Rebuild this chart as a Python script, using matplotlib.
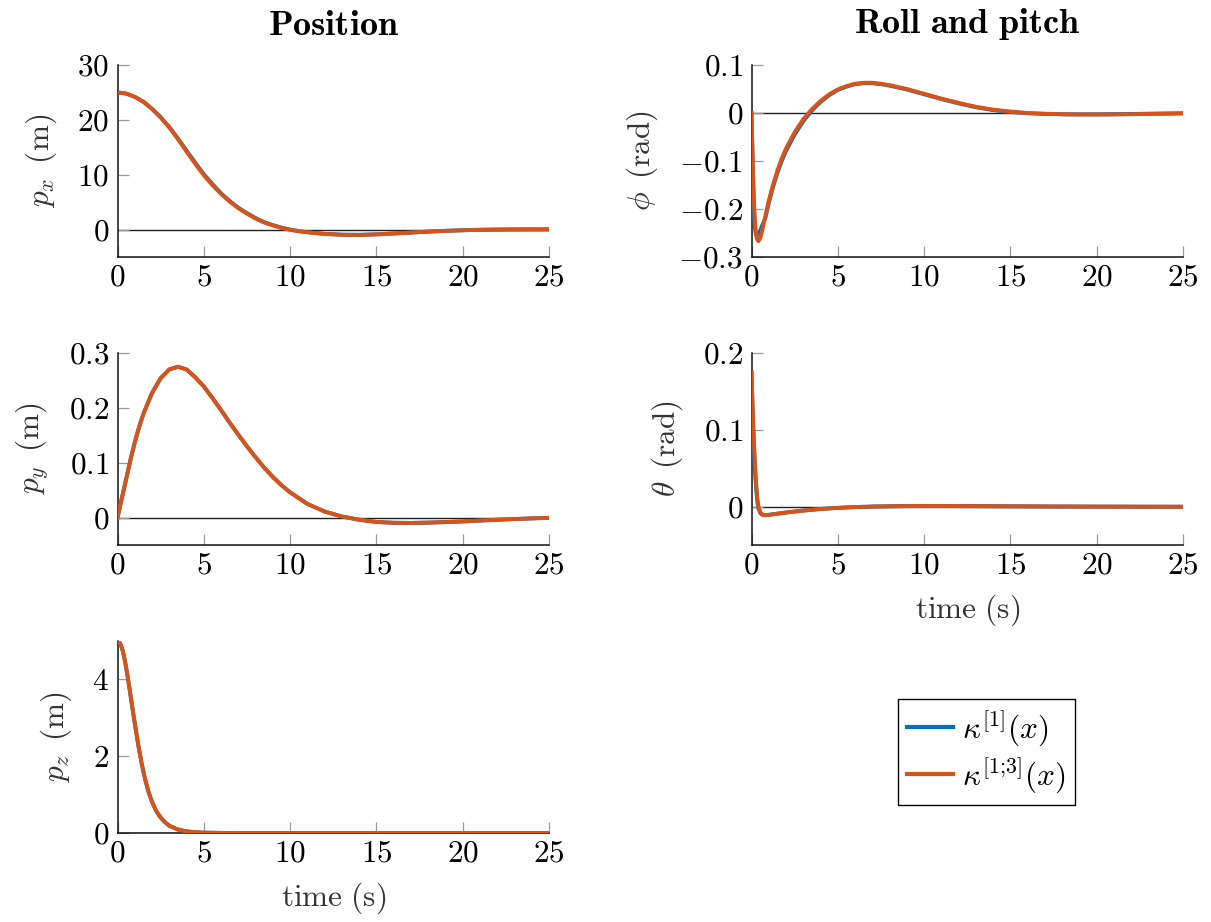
import matplotlib
matplotlib.use("Agg")
import matplotlib.pyplot as plt

plt.rcParams.update({
    "mathtext.fontset": "cm",
    "font.family": "serif",
    "font.serif": ["cmr10"],
    "axes.unicode_minus": False,
})

# ---------------- data ----------------
t_px = [0, 0.5, 1, 1.5, 2, 2.5, 3, 3.5, 4, 4.5, 5, 5.5, 6, 6.5, 7, 7.5, 8, 8.5, 9, 9.5,
        10, 10.5, 11, 12, 13, 14, 15, 16, 17, 18, 19, 20, 21, 22, 23, 24, 25]
px_k1 = [25.0, 24.8, 24.2, 23.3, 22.0, 20.5, 18.7, 16.6, 14.4, 12.2, 10.1, 8.3, 6.6, 5.2, 4.0,
         3.0, 2.1, 1.35, 0.8, 0.35, 0.0, -0.28, -0.48, -0.78, -0.93, -0.96, -0.87, -0.71,
         -0.54, -0.37, -0.23, -0.12, -0.04, 0.0, 0.02, 0.03, 0.03]
px_k13 = [25.0, 24.8, 24.2, 23.3, 22.0, 20.4, 18.6, 16.5, 14.2, 12.0, 9.9, 8.1, 6.5, 5.1, 3.9,
          2.9, 2.0, 1.3, 0.75, 0.3, -0.05, -0.3, -0.5, -0.8, -0.95, -0.97, -0.88, -0.72,
          -0.55, -0.38, -0.24, -0.13, -0.05, 0.0, 0.03, 0.05, 0.05]

t_py = [0, 0.25, 0.5, 0.75, 1, 1.25, 1.5, 2, 2.5, 3, 3.5, 4, 4.5, 5, 5.5, 6, 6.5, 7, 7.5, 8,
        8.5, 9, 9.5, 10, 11, 12, 13, 14, 15, 16, 17, 18, 19, 20, 21, 22, 23, 24, 25]
py_k1 = [0.0, 0.035, 0.07, 0.105, 0.137, 0.165, 0.189, 0.227, 0.254, 0.27, 0.275, 0.270,
         0.256, 0.239, 0.218, 0.196, 0.173, 0.151, 0.130, 0.110, 0.091, 0.074, 0.059, 0.046,
         0.025, 0.011, 0.002, -0.004, -0.008, -0.0095, -0.0098, -0.0092, -0.0082, -0.007,
         -0.0055, -0.004, -0.0027, -0.0015, -0.0005]
py_k13 = [0.0, 0.035, 0.07, 0.105, 0.137, 0.165, 0.189, 0.227, 0.254, 0.27, 0.275, 0.270,
          0.256, 0.239, 0.218, 0.196, 0.173, 0.151, 0.130, 0.110, 0.091, 0.074, 0.059, 0.046,
          0.025, 0.011, 0.002, -0.004, -0.008, -0.0095, -0.0098, -0.0092, -0.0082, -0.007,
          -0.0055, -0.004, -0.0027, -0.0015, -0.0005]

t_pz = [0, 0.1, 0.2, 0.3, 0.4, 0.5, 0.6, 0.7, 0.8, 0.9, 1.0, 1.2, 1.4, 1.6, 1.8, 2.0, 2.25,
        2.5, 2.75, 3.0, 3.5, 4.0, 4.5, 5.0, 6.0, 7.0, 10, 15, 20, 25]
pz_k1 = [5.0, 4.97, 4.89, 4.75, 4.55, 4.31, 4.04, 3.75, 3.45, 3.15, 2.86, 2.3, 1.81, 1.4,
         1.07, 0.81, 0.57, 0.4, 0.28, 0.19, 0.09, 0.043, 0.02, 0.009, 0.002, 0.0, 0.0, 0.0,
         0.0, 0.0]
pz_k13 = [5.0, 4.97, 4.89, 4.75, 4.55, 4.31, 4.04, 3.75, 3.45, 3.15, 2.86, 2.3, 1.81, 1.4,
          1.07, 0.81, 0.57, 0.4, 0.28, 0.19, 0.09, 0.043, 0.02, 0.009, 0.002, 0.0, 0.0, 0.0,
          0.0, 0.0]

t_phi = [0, 0.05, 0.1, 0.15, 0.2, 0.25, 0.3, 0.4, 0.5, 0.6, 0.8, 1.0, 1.25, 1.5, 1.75, 2.0,
         2.5, 3.0, 3.5, 4, 4.5, 5, 5.5, 6, 6.5, 7, 7.5, 8, 9, 10, 11, 12, 13, 14, 15, 16, 17,
         18, 19, 20, 21, 22, 23, 24, 25]
phi_k1 = [0.0, -0.08, -0.15, -0.205, -0.238, -0.252, -0.255, -0.25, -0.245, -0.236, -0.219,
          -0.188, -0.154, -0.125, -0.1, -0.079, -0.045, -0.017, 0.005, 0.023, 0.037, 0.048,
          0.055, 0.06, 0.062, 0.062, 0.06, 0.057, 0.049, 0.039, 0.029, 0.02, 0.012, 0.006,
          0.002, -0.0005, -0.002, -0.0028, -0.003, -0.003, -0.0025, -0.002, -0.0015, -0.001,
          -0.0005]
phi_k13 = [0.0, -0.07, -0.14, -0.19, -0.225, -0.248, -0.261, -0.267, -0.261, -0.248, -0.215,
           -0.183, -0.149, -0.12, -0.095, -0.074, -0.04, -0.013, 0.008, 0.025, 0.039, 0.049,
           0.056, 0.061, 0.063, 0.063, 0.061, 0.058, 0.05, 0.04, 0.03, 0.021, 0.013, 0.007,
           0.003, 0.0, -0.0015, -0.0025, -0.003, -0.003, -0.003, -0.0025, -0.002, -0.0015,
           -0.001]

t_theta = [0, 0.05, 0.1, 0.15, 0.2, 0.25, 0.3, 0.35, 0.4, 0.5, 0.6, 0.8, 1.0, 1.5, 2, 3, 4, 5,
           6, 7, 8, 9, 10, 12, 14, 16, 18, 20, 22, 25]
theta_k1 = [0.175, 0.135, 0.1, 0.072, 0.049, 0.03, 0.016, 0.005, -0.002, -0.008, -0.0105,
            -0.0112, -0.0107, -0.0092, -0.0077, -0.0051, -0.0031, -0.0016, -0.0006, 0.0001,
            0.0005, 0.0007, 0.0008, 0.0007, 0.0005, 0.0003, 0.0001, 0.0, -0.0001, -0.0002]
theta_k13 = [0.175, 0.14, 0.108, 0.08, 0.056, 0.036, 0.02, 0.008, 0.0, -0.007, -0.01,
             -0.0112, -0.0108, -0.0093, -0.0078, -0.0052, -0.0032, -0.0017, -0.0007, 0.0,
             0.0004, 0.0007, 0.0008, 0.0007, 0.0005, 0.0003, 0.0001, 0.0, -0.0001, -0.0002]

x_ticks = [0, 5, 10, 15, 20, 25]
labels = [r"$\kappa^{[1]}(x)$", r"$\kappa^{[1;\!3]}(x)$"]

# ---------------- styling ----------------
BLUE = "#0072BD"
ORANGE = "#D95319"
FS = 22.5
LBL_COLOR = "#333333"

W_PX, H_PX = 1211, 922
fig = plt.figure(figsize=(W_PX / 100, H_PX / 100), dpi=100)


def make_axes(x0, y_top, y_bot):
    return fig.add_axes([x0 / W_PX, 1 - y_bot / H_PX, 431.5 / W_PX, (y_bot - y_top) / H_PX])


def style(ax, ylim, yticks, ylabel, xlabel=None):
    ax.set_xlim(0, 25)
    ax.set_ylim(*ylim)
    for s in ("top", "right"):
        ax.spines[s].set_visible(False)
    for s in ("left", "bottom"):
        ax.spines[s].set_linewidth(1.1)
        ax.spines[s].set_color("#111111")
    ax.axhline(0, color="#222222", lw=1.0, zorder=1.5)
    ax.set_xticks(x_ticks)
    ax.set_xticklabels([f"${v:g}$" for v in x_ticks])
    ax.set_yticks(yticks)
    ax.set_yticklabels([f"${v:g}$" for v in yticks])
    ax.tick_params(direction="in", length=8, width=0.9, color="#9a9a9a",
                   labelsize=FS, labelcolor="black")
    ax.tick_params(axis="x", pad=5)
    ax.tick_params(axis="y", pad=6)
    ax.set_ylabel(ylabel, fontsize=FS, color=LBL_COLOR, labelpad=13)
    if xlabel:
        ax.set_xlabel(xlabel, fontsize=FS, color=LBL_COLOR, labelpad=9)


def draw(ax, t, k1, k13):
    h1, = ax.plot(t, k1, color=BLUE, lw=2.8, zorder=3, solid_joinstyle="round")
    h2, = ax.plot(t, k13, color=ORANGE, lw=2.8, zorder=4, solid_joinstyle="round")
    return h1, h2


LX, RX = 117.5, 751.5
ROWS = [(65, 257), (353, 545), (641, 833)]

ax_px = make_axes(LX, *ROWS[0])
draw(ax_px, t_px, px_k1, px_k13)
style(ax_px, (-5, 30), [0, 10, 20, 30], r"$p_x\ \,(\mathrm{m})$")

ax_py = make_axes(LX, *ROWS[1])
draw(ax_py, t_py, py_k1, py_k13)
style(ax_py, (-0.05, 0.3), [0, 0.1, 0.2, 0.3], r"$p_y\ \,(\mathrm{m})$")

ax_pz = make_axes(LX, *ROWS[2])
draw(ax_pz, t_pz, pz_k1, pz_k13)
style(ax_pz, (0, 5), [0, 2, 4], r"$p_z\ \,(\mathrm{m})$", r"$\mathrm{time\ (s)}$")

ax_phi = make_axes(RX, *ROWS[0])
draw(ax_phi, t_phi, phi_k1, phi_k13)
style(ax_phi, (-0.3, 0.1), [-0.3, -0.2, -0.1, 0, 0.1], r"$\phi\ \,(\mathrm{rad})$")

ax_th = make_axes(RX, *ROWS[1])
handles = draw(ax_th, t_theta, theta_k1, theta_k13)
style(ax_th, (-0.05, 0.2), [0, 0.1, 0.2], r"$\theta\ \,(\mathrm{rad})$", r"$\mathrm{time\ (s)}$")

# column titles
fig.text((LX + 431.5 / 2) / W_PX, 1 - 42 / H_PX, r"$\mathbf{Position}$",
         ha="center", va="bottom", fontsize=26)
fig.text((RX + 431.5 / 2) / W_PX, 1 - 42 / H_PX, r"$\mathbf{Roll\ and\ pitch}$",
         ha="center", va="bottom", fontsize=26)

leg = fig.legend(handles, labels, loc="upper left",
                 bbox_to_anchor=(898 / W_PX, 1 - 699 / H_PX), borderaxespad=0,
                 fontsize=FS, frameon=True, fancybox=False, framealpha=1,
                 edgecolor="black", handlelength=1.45, handletextpad=0.3,
                 borderpad=0.3, labelspacing=0.25)
leg.get_frame().set_linewidth(1.0)
for ln in leg.get_lines():
    ln.set_linewidth(3)

fig.savefig("out.png", dpi=100)
